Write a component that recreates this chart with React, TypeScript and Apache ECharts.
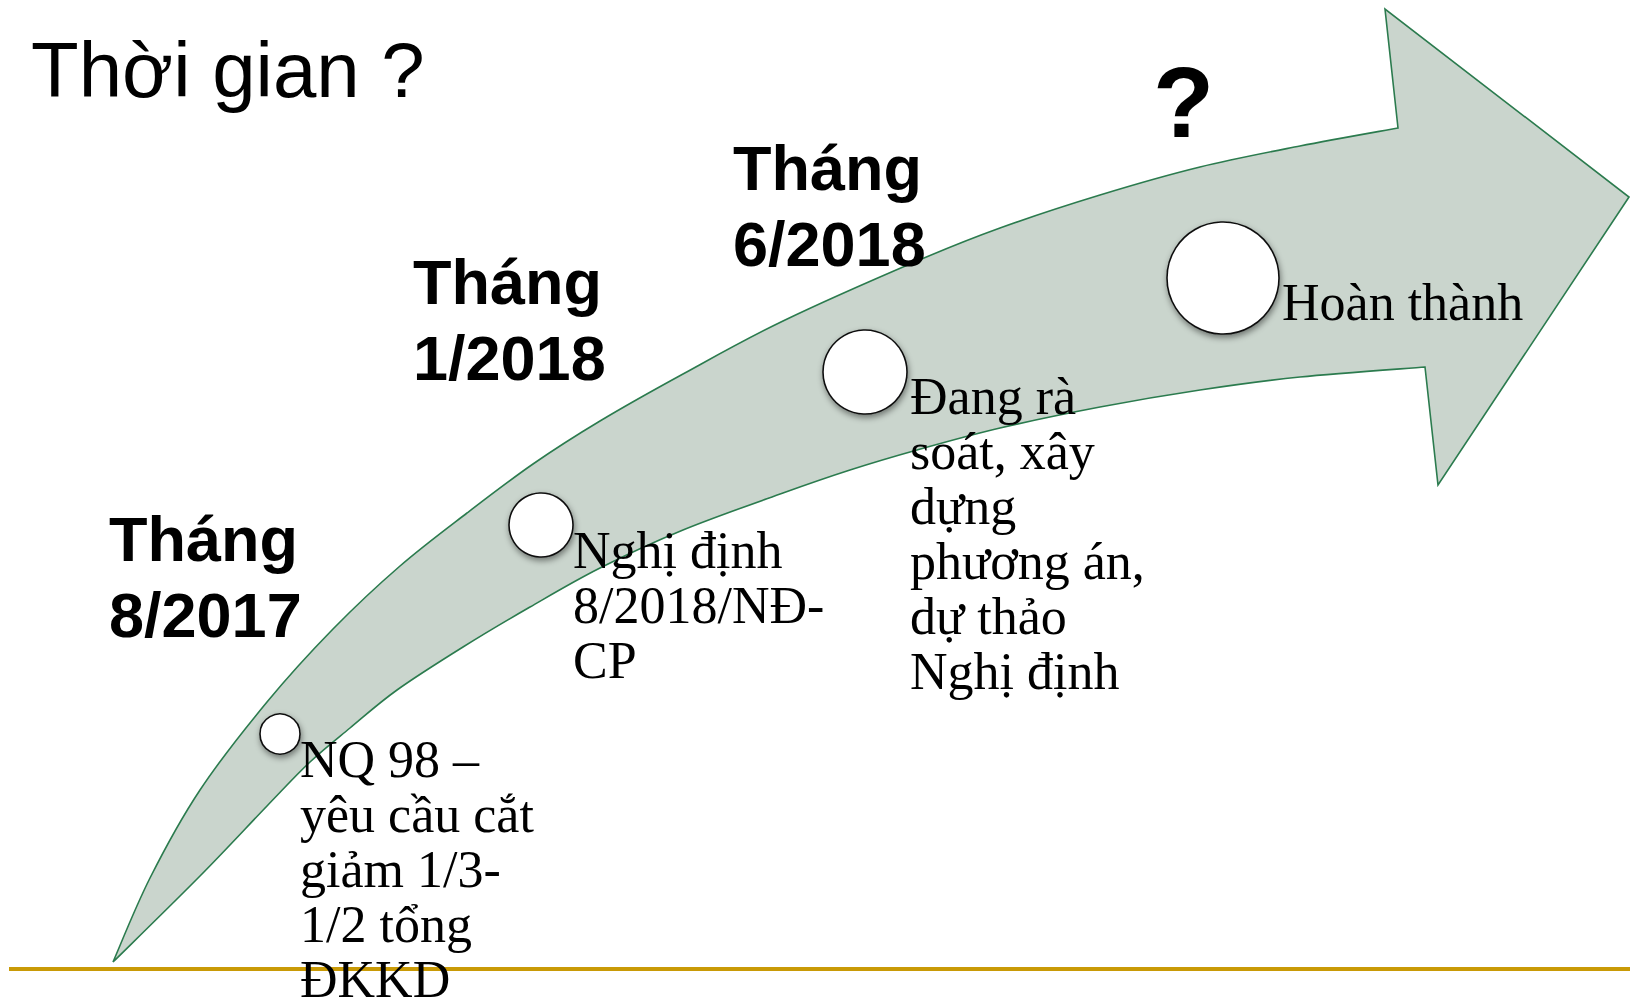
import React, { useEffect, useRef } from "react";
import * as echarts from "echarts";

// ---- texts ----
const TITLE = "Thời gian ?";
const QUESTION = "?";
const DATE_LABELS = ["Tháng\n8/2017", "Tháng\n1/2018", "Tháng\n6/2018"];
const DESCRIPTIONS = [
  "NQ 98 –\nyêu cầu cắt\ngiảm 1/3-\n1/2 tổng\nĐKKD",
  "Nghị định\n8/2018/NĐ-\nCP",
  "Đang rà\nsoát, xây\ndựng\nphương án,\ndự thảo\nNghị định",
  "Hoàn thành",
];

// ---- anchors (x, first baseline) in canvas units ----
const TITLE_ANCHOR = [31, 97];
const QUESTION_ANCHOR = [1153, 137];
const DATE_ANCHORS = [[109, 561], [413, 304], [733, 190]];
const DESC_ANCHORS = [[300, 777], [573, 568], [910, 414], [1282, 320]];

// ---- milestones: x, y, radius ----
const MILESTONES = [[280, 734, 20], [541, 525, 32], [865, 372, 42], [1223, 278, 56]];

// ---- arrow outline ----
const ARROW_UPPER = [
  [113, 962], [150, 878], [200, 790], [267, 702], [333, 629], [400, 566], [467, 513],
  [533, 464], [600, 421], [683, 374], [783, 321], [917, 261], [1000, 228], [1100, 195],
  [1200, 167], [1300, 146], [1398, 128],
];
const ARROW_HEAD = [[1385, 9], [1629, 197], [1438, 485], [1425, 367]];
const ARROW_LOWER = [
  [1425, 367], [1300, 377], [1200, 390], [1100, 407], [1000, 428], [917, 450], [850, 470],
  [783, 493], [683, 530], [600, 568], [530, 607], [463, 647], [397, 690], [350, 728],
  [310, 762], [267, 806], [200, 876], [113, 962],
];

// ---- base rule ----
const RULE = [[9, 969], [1630, 969]];

const W = 1630;
const H = 1001;

function curve(pts: number[][]): string {
  let d = "";
  for (let i = 0; i < pts.length - 1; i++) {
    const p0 = pts[i - 1] || pts[i];
    const p1 = pts[i];
    const p2 = pts[i + 1];
    const p3 = pts[i + 2] || pts[i + 1];
    const c1x = p1[0] + (p2[0] - p0[0]) / 6;
    const c1y = p1[1] + (p2[1] - p0[1]) / 6;
    const c2x = p2[0] - (p3[0] - p1[0]) / 6;
    const c2y = p2[1] - (p3[1] - p1[1]) / 6;
    d += ` C${c1x},${c1y} ${c2x},${c2y} ${p2[0]},${p2[1]}`;
  }
  return d;
}

const SANS = '"Liberation Sans", Arial, sans-serif';
const SERIF = '"Liberation Serif", "Times New Roman", serif';

// top of a text block from its first baseline (SVG central baseline)
function topFromBaseline(baseline: number, fontSize: number, lineHeight: number, c: number) {
  return baseline - lineHeight / 2 - c * fontSize;
}

export default function App() {
  const ref = useRef<HTMLDivElement>(null);

  useEffect(() => {
    if (!ref.current) return;
    const chart = echarts.init(ref.current, undefined, { renderer: "svg" });

    type TextItem = { text: string; anchor: number[]; size: number; lh: number; weight: string; family: string; c: number };
    const textItems: TextItem[] = [];
    textItems.push({ text: TITLE, anchor: TITLE_ANCHOR, size: 78, lh: 78, weight: "normal", family: SANS, c: 0.3465 });
    textItems.push({ text: QUESTION, anchor: QUESTION_ANCHOR, size: 100, lh: 100, weight: "bold", family: SANS, c: 0.3465 });
    DATE_LABELS.forEach((t, i) =>
      textItems.push({ text: t, anchor: DATE_ANCHORS[i], size: 63, lh: 76, weight: "bold", family: SANS, c: 0.3465 })
    );
    DESCRIPTIONS.forEach((t, i) =>
      textItems.push({ text: t, anchor: DESC_ANCHORS[i], size: 52, lh: 55, weight: "normal", family: SERIF, c: 0.3375 })
    );

    const option: any = {
      animation: false,
      backgroundColor: "#ffffff",
      grid: { left: 0, right: 0, top: 0, bottom: 0 },
      xAxis: { type: "value", min: 0, max: W, show: false },
      yAxis: { type: "value", min: 0, max: H, inverse: true, show: false },
      series: [
        {
          type: "custom",
          name: "arrow",
          z: 1,
          silent: true,
          data: [0],
          renderItem: (_p: any, api: any) => {
            const up = ARROW_UPPER.map((p) => api.coord(p));
            const head = ARROW_HEAD.map((p) => api.coord(p));
            const lo = ARROW_LOWER.map((p) => api.coord(p));
            let d = `M${up[0][0]},${up[0][1]}` + curve(up);
            head.forEach((p: number[]) => (d += ` L${p[0]},${p[1]}`));
            d += curve(lo) + " Z";
            return {
              type: "path",
              shape: { pathData: d },
              style: { fill: "#CAD5CD", stroke: "#2B7B4E", lineWidth: 1.6 },
            };
          },
        },
        {
          type: "custom",
          name: "rule",
          z: 1,
          silent: true,
          data: [0],
          renderItem: (_p: any, api: any) => {
            const a = api.coord(RULE[0]);
            const b = api.coord(RULE[1]);
            return {
              type: "line",
              shape: { x1: a[0], y1: a[1], x2: b[0], y2: b[1] },
              style: { stroke: "#C99A06", lineWidth: 4 },
            };
          },
        },
        {
          type: "scatter",
          name: "milestones",
          z: 2,
          silent: true,
          symbol: "circle",
          symbolSize: (v: number[]) => v[2] * 2,
          data: MILESTONES,
          itemStyle: {
            color: "#ffffff",
            borderColor: "#111111",
            borderWidth: 1.6,
            shadowBlur: 6,
            shadowColor: "rgba(0,0,0,0.45)",
            shadowOffsetX: 1,
            shadowOffsetY: 3,
            opacity: 1,
          },
        },
        {
          type: "custom",
          name: "texts",
          z: 3,
          silent: true,
          data: textItems.map((_t, i) => i),
          renderItem: (params: any, api: any) => {
            const t = textItems[params.dataIndex];
            const pt = api.coord(t.anchor);
            return {
              type: "text",
              style: {
                text: t.text,
                x: pt[0],
                y: topFromBaseline(pt[1], t.size, t.lh, t.c),
                fill: "#000000",
                font: `${t.weight} ${t.size}px ${t.family}`,
                lineHeight: t.lh,
                align: "left",
                verticalAlign: "top",
              },
            };
          },
        },
      ],
    };
    chart.setOption(option);
    return () => chart.dispose();
  }, []);

  return (
    <div
      ref={ref}
      style={{ position: "fixed", left: 0, top: 0, width: W, height: H, background: "#fff" }}
    />
  );
}
